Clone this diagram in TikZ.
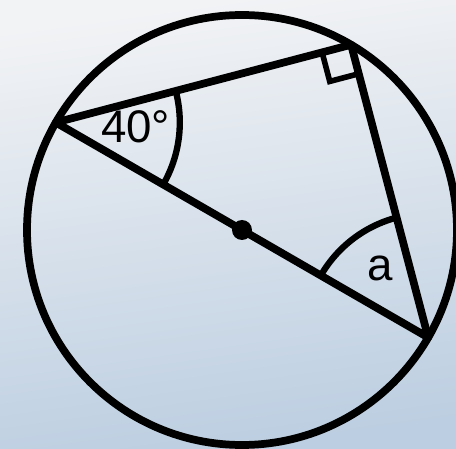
\documentclass[tikz,border=0pt]{standalone}
\usepackage{fontspec}
\setmainfont{Liberation Sans}
\usetikzlibrary{calc, angles}

\definecolor{bgtop}{RGB}{242,243,245}
\definecolor{bgbot}{RGB}{188,206,225}

\begin{document}
\begin{tikzpicture}[
    rim/.style={line width=4.4pt},
    chord/.style={line width=4.4pt, line cap=round, line join=round},
    anglemark/.style={draw, line width=3.6pt},
    rightmark/.style={line width=3.2pt},
    lbl/.style={font=\fontsize{26}{30}\selectfont, inner sep=0pt}
  ]
    % --- Background ---
    \shade[top color=bgtop, bottom color=bgbot, shading angle=8]
      (-4.84,-4.38) rectangle (4.28,4.6);
    \useasboundingbox (-4.84,-4.38) rectangle (4.28,4.6);

    % --- Circle and points ---
    \coordinate (O) at (0,0);
    \coordinate (A) at (150:4.3);
    \coordinate (B) at (-30:4.3);
    \coordinate (C) at (59.5:4.3);
    \draw[rim] (O) circle (4.3);

    % --- Triangle ---
    \draw[chord] (A) -- (C) -- (B) -- cycle;
    \fill (O) circle (0.2);

    % --- Right angle ---
    \coordinate (r1) at ($(C)!0.6cm!(A)$);
    \coordinate (r3) at ($(C)!0.6cm!(B)$);
    \coordinate (r2) at ($(r1)+(r3)-(C)$);
    \draw[rightmark] (r1) -- (r2) -- (r3);

    % --- Angle arcs ---
    \pic[anglemark, angle radius=2.48cm] {angle=B--A--C};
    \pic[anglemark, angle radius=2.48cm] {angle=C--B--A};

    % --- Labels ---
    \node[lbl] (t40) at ($(A)+(-3:1.6)$) {40°};
    \node[lbl] (ta) at ($(B)+(125:1.68)$) {a};

  \end{tikzpicture}
\end{document}
